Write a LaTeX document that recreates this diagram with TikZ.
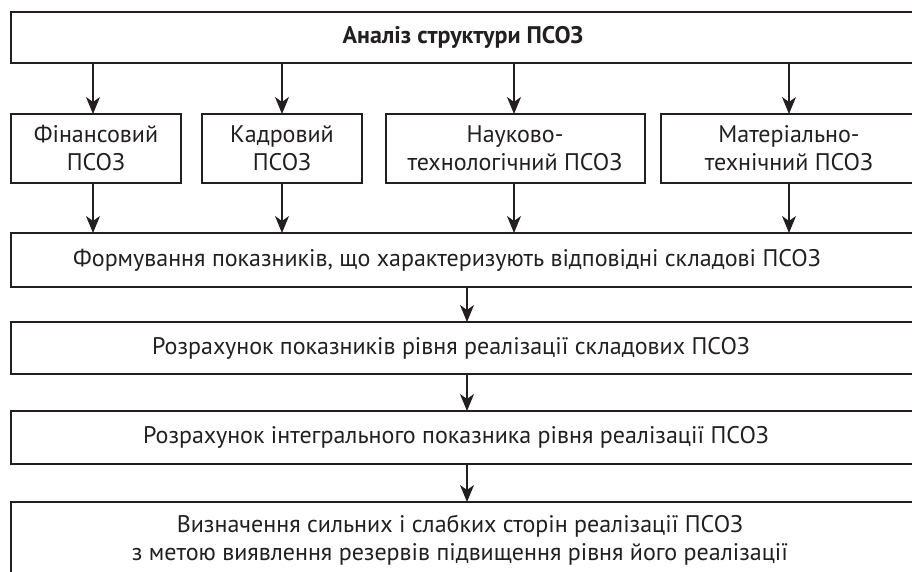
\documentclass[tikz,border=0pt]{standalone}
\usepackage{fontspec}
\setmainfont{PT Sans}
\usetikzlibrary{arrows.meta}
\definecolor{ink}{HTML}{231F20}
\tikzset{
  box/.style={draw=ink, line width=2.6pt, rectangle, anchor=north west, inner sep=0pt, outer sep=0pt},
  lbl/.style={text=ink, align=center, inner sep=0pt, font=\fontsize{24}{28}\selectfont},
  arr/.style={draw=ink, line width=1.2pt, -{Stealth[length=17pt,width=14pt,inset=5pt]}},
}
\begin{document}
\begin{tikzpicture}[x=1pt,y=-1pt]
\useasboundingbox (0,0) rectangle (912,572);
\clip (0,0) rectangle (912,572);
% boxes
\node[box, minimum width=1000pt, minimum height=51pt] (top) at (11,12) {};
\node[box, minimum width=170pt, minimum height=69pt] (b1) at (11,114) {};
\node[box, minimum width=160pt, minimum height=69pt] (b2) at (202,114) {};
\node[box, minimum width=259pt, minimum height=69pt] (b3) at (386,114) {};
\node[box, minimum width=400pt, minimum height=69pt] (b4) at (661,114) {};
\node[box, minimum width=1000pt, minimum height=54pt] (form) at (11,233) {};
\node[box, minimum width=1000pt, minimum height=52pt] (calc1) at (11,322) {};
\node[box, minimum width=1000pt, minimum height=53pt] (calc2) at (11,411) {};
\node[box, minimum width=1000pt, minimum height=100pt] (final) at (11,502) {};
% texts
\node[lbl, font=\fontsize{24}{28}\selectfont\bfseries] (ttop) at (463,37) {Аналіз структури ПСОЗ};
\node[lbl] (t1) at (96,148.5) {Фінансовий\\ПСОЗ};
\node[lbl] (t2) at (282,148.5) {Кадровий\\ПСОЗ};
\node[lbl] (t3) at (515,148.5) {Науково-\\технологічний ПСОЗ};
\node[lbl] (t4) at (789,148.5) {Матеріально-\\технічний ПСОЗ};
\node[lbl] (tform) at (447,260) {Формування показників, що характеризують відповідні складові ПСОЗ};
\node[lbl] (tcalc1) at (451,348) {Розрахунок показників рівня реалізації складових ПСОЗ};
\node[lbl] (tcalc2) at (456,437.5) {Розрахунок інтегрального показника рівня реалізації ПСОЗ};
\node[lbl] (tfinal) at (460,540) {Визначення сильних і слабких сторін реалізації ПСОЗ\\з метою виявлення резервів підвищення рівня його реалізації};
% arrow columns
\coordinate (c1) at (93,0);
\coordinate (c2) at (282,0);
\coordinate (c3) at (514,0);
\coordinate (c4) at (789,0);
\coordinate (c5) at (467,0);
\draw[arr] (top.south -| c1) -- (b1.north -| c1);
\draw[arr] (top.south -| c2) -- (b2.north -| c2);
\draw[arr] (top.south -| c3) -- (b3.north -| c3);
\draw[arr] (top.south -| c4) -- (b4.north -| c4);
\draw[arr] (b1.south -| c1) -- (form.north -| c1);
\draw[arr] (b2.south -| c2) -- (form.north -| c2);
\draw[arr] (b3.south -| c3) -- (form.north -| c3);
\draw[arr] (b4.south -| c4) -- (form.north -| c4);
\draw[arr] (form.south -| c5) -- (calc1.north -| c5);
\draw[arr] (calc1.south -| c5) -- (calc2.north -| c5);
\draw[arr] (calc2.south -| c5) -- (final.north -| c5);
\end{tikzpicture}
\end{document}
